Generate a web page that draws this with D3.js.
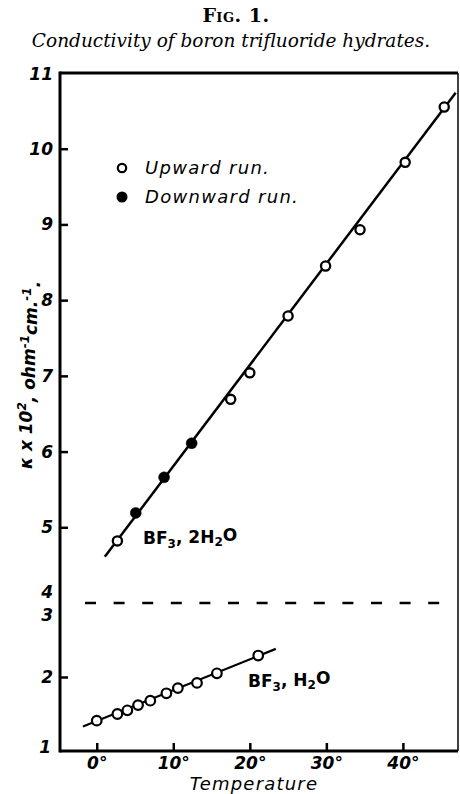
<!DOCTYPE html>
<html>
<head>
<meta charset="utf-8">
<script src="https://cdn.jsdelivr.net/npm/d3@7"></script>
<style>
  html, body { margin: 0; padding: 0; background: #fff; }
  svg { display: block; }
</style>
</head>
<body>
<svg id="chart" width="460" height="794"></svg>
<script>
// ---- Data ----
// BF3, 2H2O (upper panel): temperature (deg C), conductivity (kappa x 10^2)
const upperTemp   = [2.7, 5.1, 8.8, 12.4, 17.5, 20.0, 25.0, 29.9, 34.4, 40.3, 45.4];
const upperKappa  = [4.82, 5.19, 5.66, 6.11, 6.69, 7.04, 7.79, 8.45, 8.93, 9.82, 10.55];
const upperRun    = ["up", "down", "down", "down", "up", "up", "up", "up", "up", "up", "up"];
const upperFitT   = [1.05, 46.9];
const upperFitK   = [4.61, 10.74];

// BF3, H2O (lower panel)
const lowerTemp   = [0, 2.7, 4.0, 5.4, 7.0, 9.1, 10.6, 13.1, 15.7, 21.1];
const lowerKappa  = [1.41, 1.50, 1.55, 1.62, 1.68, 1.78, 1.85, 1.92, 2.05, 2.29];
const lowerFitT   = [-1.8, 23.4];
const lowerFitK   = [1.33, 2.38];

// Axis ticks
const xTicks      = [0, 10, 20, 30, 40];
const upperTicks  = [5, 6, 7, 8, 9, 10];
const upperLabels = [4, 5, 6, 7, 8, 9, 10, 11];
const lowerTicks  = [2];
const lowerLabels = [1, 2, 3];

// ---- Layout ----
const svg = d3.select("#chart");
const L = 60, R = 458, T = 73, B = 751, BRK = 603;
const x = d3.scaleLinear().domain([-4.8, 47.2]).range([L, R]);
const yU = d3.scaleLinear().domain([4, 11]).range([BRK, T]);
const yL = d3.scaleLinear().domain([1, 3]).range([B, BRK]);

const tickFont = "'DejaVu Sans', sans-serif";

// Title
svg.append("text").attr("x", 236).attr("y", 22).attr("text-anchor", "middle")
  .style("font-family", "'DejaVu Serif', serif").style("font-size", "19px")
  .style("font-weight", "bold")
  .style("font-variant", "small-caps").style("letter-spacing", "0.5px")
  .text("Fig. 1.");
svg.append("text").attr("x", 231).attr("y", 47).attr("text-anchor", "middle")
  .style("font-family", "'DejaVu Serif', serif").style("font-style", "italic")
  .style("font-size", "18.5px")
  .text("Conductivity of boron trifluoride hydrates.");

// Frame
const frame = svg.append("g").attr("stroke", "#000").attr("fill", "none");
frame.append("line").attr("x1", L).attr("x2", L).attr("y1", T - 1.5).attr("y2", B + 1.5).attr("stroke-width", 3);
frame.append("line").attr("x1", L).attr("x2", R).attr("y1", T).attr("y2", T).attr("stroke-width", 3);
frame.append("line").attr("x1", L).attr("x2", R).attr("y1", B).attr("y2", B).attr("stroke-width", 3);
frame.append("line").attr("x1", R).attr("x2", R).attr("y1", T).attr("y2", B).attr("stroke-width", 1.5);

// Break (dashed line)
svg.append("line").attr("x1", 85).attr("x2", 444).attr("y1", BRK).attr("y2", BRK)
  .attr("stroke", "#000").attr("stroke-width", 2.5).attr("stroke-dasharray", "11,17.6");

// Y axes
function styleAxis(g) {
  g.select(".domain").remove();
  g.selectAll(".tick line").attr("stroke", "#000").attr("stroke-width", 2.5);
  g.selectAll(".tick text").style("font-family", tickFont).style("font-weight", "bold")
    .style("font-style", "italic").style("font-size", "17px").attr("fill", "#000");
}
// tick marks
svg.append("g").attr("transform", `translate(${L},0)`)
  .call(d3.axisLeft(yU).tickValues(upperTicks).tickSizeInner(-8).tickSizeOuter(0).tickFormat(""))
  .call(styleAxis);
svg.append("g").attr("transform", `translate(${L},0)`)
  .call(d3.axisLeft(yL).tickValues(lowerTicks).tickSizeInner(-8).tickSizeOuter(0).tickFormat(""))
  .call(styleAxis);
// labels
const gUL = svg.append("g").attr("transform", `translate(${L},0)`)
  .call(d3.axisLeft(yU).tickValues(upperLabels).tickSize(0).tickPadding(7).tickFormat(d3.format("d")))
  .call(styleAxis);
gUL.selectAll(".tick").filter(d => d === 4).select("text").attr("dy", "-0.32em");
gUL.selectAll(".tick").filter(d => d === 11).select("text").attr("dy", "0.4em");
const gLL = svg.append("g").attr("transform", `translate(${L},0)`)
  .call(d3.axisLeft(yL).tickValues(lowerLabels).tickSize(0).tickPadding(7).tickFormat(d3.format("d")))
  .call(styleAxis);
gLL.selectAll(".tick").filter(d => d === 3).select("text").attr("dy", "1.05em");
gLL.selectAll(".tick").filter(d => d === 1).select("text").attr("dy", "0.1em").attr("x", -9);

// X axis
svg.append("g").attr("transform", `translate(0,${B})`)
  .call(d3.axisBottom(x).tickValues(xTicks).tickSizeInner(-8).tickSizeOuter(0).tickPadding(6)
    .tickFormat(d => d + "°"))
  .call(styleAxis);

// X label
svg.append("text").attr("x", 254).attr("y", 790).attr("text-anchor", "middle")
  .style("font-family", tickFont).style("font-style", "italic").style("font-size", "18px")
  .style("letter-spacing", "1.2px")
  .text("Temperature");

// Y label
const yl = svg.append("text").attr("transform", "translate(32,375) rotate(-90)")
  .attr("text-anchor", "middle")
  .style("font-family", tickFont).style("font-style", "italic").style("font-weight", "bold")
  .style("font-size", "17px");
yl.append("tspan").text("κ x 10");
yl.append("tspan").attr("dy", "-0.5em").style("font-size", "12px").text("2");
yl.append("tspan").attr("dy", "0.5em").text(", ohm");
yl.append("tspan").attr("dy", "-0.5em").style("font-size", "12px").text("-1");
yl.append("tspan").attr("dy", "0.5em").text("cm.");
yl.append("tspan").attr("dy", "-0.5em").style("font-size", "12px").text("-1");
yl.append("tspan").attr("dy", "0.5em").text(".");

// Fit lines
const lineU = d3.line().x(d => x(d[0])).y(d => yU(d[1]));
const lineL = d3.line().x(d => x(d[0])).y(d => yL(d[1]));
svg.append("path").attr("d", lineU(d3.zip(upperFitT, upperFitK)))
  .attr("stroke", "#000").attr("stroke-width", 2.5).attr("fill", "none");
svg.append("path").attr("d", lineL(d3.zip(lowerFitT, lowerFitK)))
  .attr("stroke", "#000").attr("stroke-width", 2.2).attr("fill", "none");

// Points
const upPts = upperTemp.map((t, i) => ({ t, k: upperKappa[i], run: upperRun[i] }));
svg.append("g").selectAll("circle").data(upPts).join("circle")
  .attr("cx", d => x(d.t)).attr("cy", d => yU(d.k))
  .attr("r", d => d.run === "down" ? 5.5 : 4.6)
  .attr("fill", d => d.run === "down" ? "#000" : "#fff")
  .attr("stroke", "#000").attr("stroke-width", d => d.run === "down" ? 0.5 : 2.3);
const loPts = lowerTemp.map((t, i) => ({ t, k: lowerKappa[i] }));
svg.append("g").selectAll("circle").data(loPts).join("circle")
  .attr("cx", d => x(d.t)).attr("cy", d => yL(d.k)).attr("r", 4.8)
  .attr("fill", "#fff").attr("stroke", "#000").attr("stroke-width", 2.2);

// Legend
const leg = svg.append("g");
leg.append("circle").attr("cx", 122).attr("cy", 168).attr("r", 4.2)
  .attr("fill", "#fff").attr("stroke", "#000").attr("stroke-width", 2.2);
leg.append("circle").attr("cx", 122).attr("cy", 197).attr("r", 5.5).attr("fill", "#000");
leg.append("text").attr("x", 145).attr("y", 174)
  .style("font-family", tickFont).style("font-style", "italic").style("font-size", "18px")
  .style("letter-spacing", "1.3px")
  .text("Upward run.");
leg.append("text").attr("x", 145).attr("y", 203)
  .style("font-family", tickFont).style("font-style", "italic").style("font-size", "18px")
  .style("letter-spacing", "1.3px")
  .text("Downward run.");

// Series labels
function bfLabel(xp, yp, water) {
  const t = svg.append("text").attr("x", xp).attr("y", yp)
    .style("font-family", tickFont).style("font-size", "17px").style("font-weight", "bold");
  t.append("tspan").text("BF");
  t.append("tspan").attr("dy", "0.3em").style("font-size", "12px").text("3");
  t.append("tspan").attr("dy", "-0.3em").text(", " + water + "H");
  t.append("tspan").attr("dy", "0.3em").style("font-size", "12px").text("2");
  t.append("tspan").attr("dy", "-0.3em").text("O");
}
bfLabel(143, 544, "2");
bfLabel(248, 687, "");
</script>
</body>
</html>
